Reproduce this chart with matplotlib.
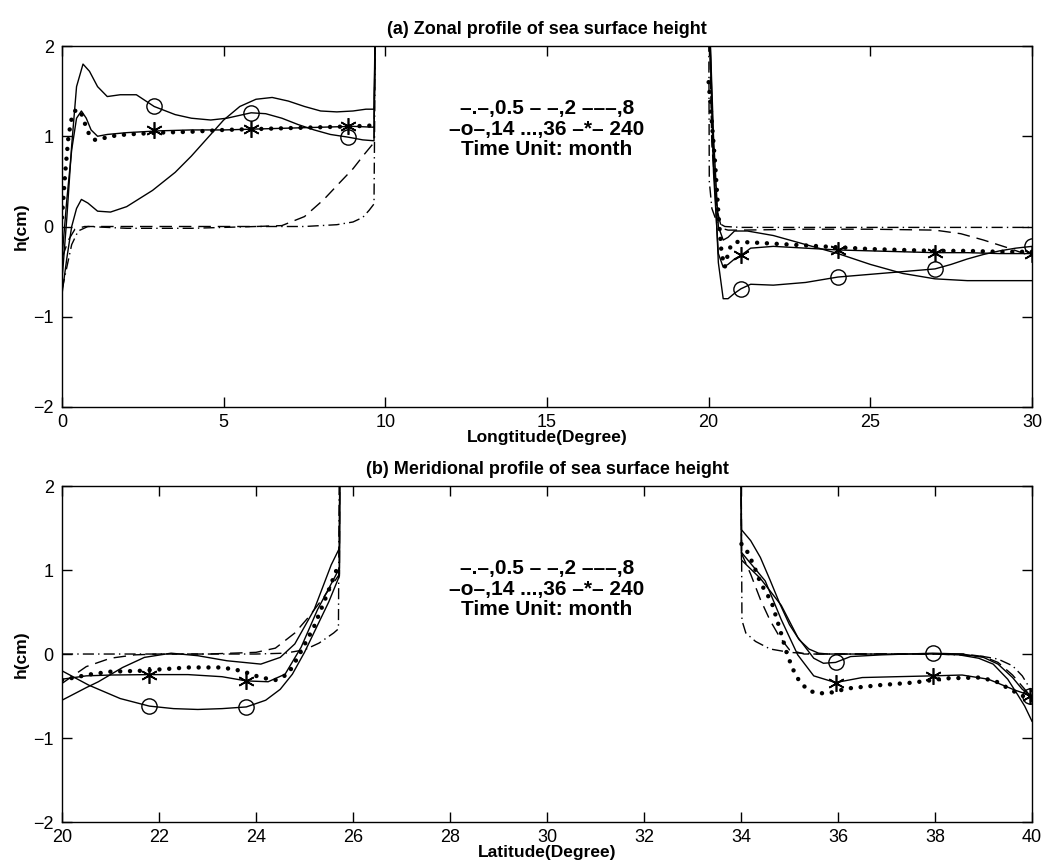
import numpy as np
import matplotlib
matplotlib.use("Agg")
import matplotlib.pyplot as plt
from matplotlib import font_manager

nan = np.nan

# ---------------- (a) zonal profile: longitude (deg) vs h (cm) ----------------
A_X_05 = [0, 0.15, 0.3, 0.5, 0.8, 2, 4, 6, 7.5, 8.5, 9.0, 9.3, 9.5, 9.65, 9.7,
          nan, 20, 20.02, 20.1, 20.25, 20.5, 21, 23, 25, 27, 29, 30]
A_H_05 = [-0.7, -0.45, -0.2, -0.05, 0.0, -0.02, -0.02, 0.0, 0.0, 0.02, 0.05, 0.1, 0.18, 0.25, 2.6,
          nan, 2.6, 0.5, 0.2, 0.05, 0.0, -0.01, -0.01, -0.01, -0.01, -0.01, -0.01]

A_X_2 = [0, 0.2, 0.4, 0.7, 2, 4, 6, 6.8, 7.5, 8.1, 8.6, 9.0, 9.35, 9.65, 9.7,
         nan, 20, 20.1, 20.25, 20.4, 20.6, 21, 23, 25, 27, 27.8, 28.5, 29.2, 30]
A_H_2 = [-0.35, -0.15, -0.03, 0.0, 0.0, 0.0, 0.0, 0.01, 0.11, 0.3, 0.49, 0.64, 0.8, 0.93, 2.6,
         nan, 2.6, 0.9, 0.2, -0.02, -0.04, -0.04, -0.03, -0.03, -0.04, -0.08, -0.15, -0.23, -0.33]

A_X_8 = [0, 0.15, 0.3, 0.45, 0.6, 0.8, 1.1, 1.5, 2.0, 2.8, 3.5, 4.0, 4.5, 5.0, 5.5, 6.0, 6.5,
         7.0, 7.5, 8.0, 8.5, 9.0, 9.4, 9.65, 9.7,
         nan, 20, 20.15, 20.3, 20.45, 20.6, 20.8, 21.2, 22, 23, 24, 25, 26, 27, 28, 29, 30]
A_H_8 = [-0.75, -0.35, 0.0, 0.2, 0.3, 0.26, 0.17, 0.16, 0.22, 0.4, 0.6, 0.78, 0.98, 1.18, 1.33, 1.41, 1.43,
         1.39, 1.33, 1.28, 1.27, 1.28, 1.3, 1.3, 2.6,
         nan, 2.6, 1.0, 0.0, -0.15, -0.12, -0.05, -0.05, -0.1, -0.2, -0.3, -0.42, -0.52, -0.58, -0.6, -0.6, -0.6]

A_X_14 = [0, 0.15, 0.3, 0.45, 0.65, 0.85, 1.1, 1.4, 1.8, 2.3, 2.85, 3.5, 4.0, 4.6, 5.1, 5.85, 6.3,
          6.8, 7.3, 7.8, 8.3, 8.85, 9.3, 9.65, 9.7,
          nan, 20, 20.15, 20.3, 20.45, 20.6, 20.8, 21, 21.3, 22, 23, 24, 25, 26, 27, 27.5, 28,
          28.5, 29, 29.5, 30]
A_H_14 = [-0.6, 0.1, 0.9, 1.55, 1.8, 1.72, 1.55, 1.44, 1.46, 1.46, 1.33, 1.24, 1.2, 1.18, 1.2, 1.26, 1.25,
          1.2, 1.13, 1.07, 1.02, 0.99, 0.96, 0.95, 2.6,
          nan, 2.6, 0.8, -0.4, -0.8, -0.8, -0.74, -0.69, -0.64, -0.65, -0.62, -0.56, -0.53, -0.5, -0.47,
          -0.42, -0.36, -0.31, -0.27, -0.24, -0.22]
A_MX_14 = [2.85, 5.85, 8.85, 21, 24, 27, 30]
A_MH_14 = [1.33, 1.26, 0.99, -0.69, -0.56, -0.47, -0.22]

A_X_36 = [0, 0.1, 0.2, 0.3, 0.4, 0.5, 0.6, 0.7, 0.8, 0.9, 1.0, 1.2, 1.5, 2, 3, 4, 5, 6, 7, 8, 9, 9.65,
          nan, 20.0, 20.1, 20.2, 20.3, 20.4, 20.5, 20.6, 20.7, 20.9, 21.5, 22, 23, 24, 25, 26, 27, 28, 29, 30]
A_H_36 = [0.1, 0.6, 1.0, 1.2, 1.28, 1.3, 1.25, 1.15, 1.05, 0.99, 0.96, 0.97, 1.0, 1.02, 1.04, 1.05, 1.07,
          1.08, 1.09, 1.1, 1.11, 1.12,
          nan, 1.6, 1.15, 0.7, 0.15, -0.3, -0.45, -0.3, -0.2, -0.17, -0.18, -0.19, -0.21, -0.23, -0.25,
          -0.26, -0.27, -0.27, -0.28, -0.28]

A_X_240 = [0, 0.15, 0.3, 0.45, 0.6, 0.75, 0.9, 1.1, 1.4, 2, 3, 4, 5, 6, 7, 8, 9, 9.65, 9.7,
           nan, 20, 20.15, 20.3, 20.45, 20.6, 20.8, 21, 21.3, 22, 23, 24, 25, 26, 27, 28, 29, 30]
A_H_240 = [-0.35, 0.3, 0.85, 1.2, 1.28, 1.2, 1.07, 1.0, 1.02, 1.04, 1.06, 1.07, 1.07, 1.08, 1.09, 1.1, 1.11,
           1.1, 2.6,
           nan, 2.6, 0.6, -0.3, -0.45, -0.42, -0.36, -0.32, -0.24, -0.22, -0.24, -0.26, -0.27, -0.28,
           -0.29, -0.29, -0.3, -0.3]
A_MX_240 = [2.85, 5.85, 8.85, 21, 24, 27, 30]
A_MH_240 = [1.07, 1.08, 1.11, -0.32, -0.26, -0.29, -0.3]

# ---------------- (b) meridional profile: latitude (deg) vs h (cm) ----------------
B_X_05 = [20, 21, 22, 23, 24, 24.6, 25.0, 25.3, 25.6, 25.7, 25.72,
          nan, 34, 34.02, 34.1, 34.3, 34.6, 35, 35.5, 37, 38, 38.5, 39, 39.3, 39.6, 39.8, 40]
B_H_05 = [0, 0, 0, 0, 0, 0.01, 0.05, 0.13, 0.25, 0.3, 2.6,
          nan, 2.6, 0.4, 0.25, 0.15, 0.06, 0.02, 0.0, 0.0, 0.0, -0.01, -0.03, -0.06, -0.14, -0.26, -0.45]

B_X_2 = [20, 20.5, 21, 21.5, 22, 23, 24, 24.4, 24.8, 25.1, 25.4, 25.72, 25.73,
         nan, 34, 34.01, 34.2, 34.4, 34.6, 34.8, 35.0, 35.3, 36, 38, 38.6, 39, 39.3, 39.6, 40]
B_H_2 = [-0.35, -0.15, -0.05, -0.01, 0.0, 0.0, 0.02, 0.07, 0.25, 0.45, 0.68, 0.95, 2.6,
         nan, 2.6, 1.2, 0.95, 0.65, 0.4, 0.2, 0.05, 0.0, 0.0, 0.0, 0.0, -0.03, -0.1, -0.25, -0.52]

B_X_8 = [20, 20.5, 20.75, 21.25, 21.7, 22.25, 22.8, 23.4, 24.1, 24.5, 24.8, 25.2, 25.55, 25.72, 25.73,
         nan, 34, 34.01, 34.2, 34.4, 34.6, 34.8, 35.0, 35.2, 35.4, 35.6, 35.8, 37, 38, 38.5, 38.9, 39.2,
         39.5, 39.7, 39.85, 40]
B_H_8 = [-0.55, -0.4, -0.33, -0.16, -0.04, 0.01, -0.02, -0.08, -0.12, -0.04, 0.12, 0.53, 1.06, 1.26, 2.6,
         nan, 2.6, 1.48, 1.35, 1.15, 0.88, 0.6, 0.35, 0.17, 0.06, 0.01, 0.0, 0.0, 0.0, -0.01, -0.05, -0.12,
         -0.3, -0.48, -0.62, -0.8]

B_X_14 = [20, 20.55, 21.2, 21.8, 22.3, 22.8, 23.3, 23.8, 24.2, 24.5, 24.75, 25.0, 25.3, 25.5, 25.72, 25.73,
          nan, 34, 34.01, 34.4, 34.83, 35.17, 35.5, 35.7, 35.95, 36.26, 36.9, 37.95, 38.56, 39.0, 39.3,
          39.6, 39.8, 40]
B_H_14 = [-0.2, -0.37, -0.53, -0.62, -0.65, -0.66, -0.65, -0.63, -0.55, -0.42, -0.24, 0.02, 0.38, 0.62, 0.93, 2.6,
          nan, 2.6, 1.12, 0.9, 0.58, 0.2, -0.05, -0.11, -0.1, -0.03, -0.01, 0.01, 0.0, -0.04, -0.12,
          -0.28, -0.42, -0.5]
B_MX_14 = [21.8, 23.8, 35.95, 37.95, 39.95]
B_MH_14 = [-0.62, -0.63, -0.1, 0.01, -0.5]

B_X_36 = [20, 20.55, 21.0, 21.6, 22.6, 23.3, 23.7, 24.1, 24.4, 24.66, 24.9, 25.2, 25.48, 25.72,
          nan, 34.01, 34.12, 34.26, 34.4, 34.63, 34.8, 34.95, 35.07, 35.2, 35.38, 35.58, 35.85, 36.2,
          36.87, 37.55, 38.22, 38.9, 39.24, 39.58, 39.85, 40]
B_H_36 = [-0.31, -0.245, -0.21, -0.2, -0.16, -0.16, -0.2, -0.28, -0.31, -0.24, 0.0, 0.33, 0.73, 1.09,
          nan, 1.31, 1.23, 1.06, 0.85, 0.62, 0.3, 0.0, -0.18, -0.32, -0.43, -0.47, -0.46, -0.41,
          -0.37, -0.34, -0.29, -0.28, -0.32, -0.43, -0.51, -0.55]

B_X_240 = [20, 20.5, 21.0, 21.8, 22.6, 23.3, 23.8, 24.25, 24.6, 24.93, 25.27, 25.72, 25.73,
           nan, 34, 34.01, 34.5, 34.83, 35.17, 35.5, 35.95, 36.5, 37.2, 37.95, 38.56, 39.1, 39.65, 40]
B_H_240 = [-0.3, -0.26, -0.25, -0.245, -0.245, -0.27, -0.32, -0.33, -0.24, 0.08, 0.53, 1.02, 2.6,
           nan, 2.6, 1.21, 0.87, 0.41, -0.01, -0.26, -0.34, -0.28, -0.27, -0.26, -0.25, -0.3, -0.43, -0.5]
B_MX_240 = [21.8, 23.8, 35.95, 37.95, 39.95]
B_MH_240 = [-0.245, -0.32, -0.34, -0.26, -0.5]

LEGEND_LINES = ["\u2013.\u2013,0.5 \u2013 \u2013,2 \u2013\u2013\u2013,8",
                "\u2013o\u2013,14 ...,36 \u2013*\u2013 240",
                "Time Unit: month"]

# ---------------- styling ----------------
installed = {f.name for f in font_manager.fontManager.ttflist}
base_font = "Liberation Sans" if "Liberation Sans" in installed else "DejaVu Sans"
title_font = "Liberation Sans Narrow" if "Liberation Sans Narrow" in installed else base_font
plt.rcParams["font.family"] = [base_font, "DejaVu Sans"]
plt.rcParams["axes.linewidth"] = 1.0

LW = 1.0
DASHDOT = (0, (8, 3, 1, 3))
DASHED = (0, (9, 5))
DOTTED = (0, (0.01, 2.2))
STAR = (6, 2, 0)


def draw_panel(ax, xs, title, xlabel, xlim, xticks, text_x, text_y):
    (x05, h05), (x2, h2), (x8, h8), (x14, h14, mx14, mh14), (x36, h36), (x240, h240, mx240, mh240) = xs
    ax.plot(x05, h05, color="k", lw=LW, linestyle=DASHDOT)
    ax.plot(x2, h2, color="k", lw=LW, linestyle=DASHED)
    ax.plot(x8, h8, color="k", lw=LW)
    ax.plot(x14, h14, color="k", lw=LW)
    ax.plot(mx14, mh14, linestyle="none", marker="o", ms=11, mfc="none", mec="k", mew=1.0)
    ax.plot(x36, h36, color="k", lw=3.2, linestyle=DOTTED, dash_capstyle="round")
    ax.plot(x240, h240, color="k", lw=LW)
    ax.plot(mx240, mh240, linestyle="none", marker=STAR, ms=12, mec="k", mew=1.2)

    ax.set_xlim(*xlim)
    ax.set_ylim(-2, 2)
    ax.set_xticks(xticks)
    ax.set_yticks([-2, -1, 0, 1, 2])
    ax.tick_params(direction="in", top=True, right=True, length=7, width=1.0, labelsize=13)
    ax.tick_params(axis="x", pad=5)
    ax.tick_params(axis="y", pad=6)
    ax.set_title(title, fontsize=13, fontweight="bold", family=[title_font, "DejaVu Sans"], pad=9)
    ax.set_xlabel(xlabel, fontsize=12.5, fontweight="bold", labelpad=-1)
    ax.set_ylabel("h(cm)", fontsize=12.5, fontweight="bold", labelpad=3)
    ax.text(text_x, text_y, "\n".join(LEGEND_LINES), ha="center", va="center",
            fontsize=15, fontweight="bold", linespacing=1.1)


fig = plt.figure(figsize=(10.58, 8.65), dpi=100)
ax_a = fig.add_axes([0.0586, 0.5295, 0.9168, 0.4173])
ax_b = fig.add_axes([0.0586, 0.0497, 0.9168, 0.3884])

draw_panel(ax_a,
           [(A_X_05, A_H_05), (A_X_2, A_H_2), (A_X_8, A_H_8),
            (A_X_14, A_H_14, A_MX_14, A_MH_14), (A_X_36, A_H_36),
            (A_X_240, A_H_240, A_MX_240, A_MH_240)],
           "(a) Zonal profile of sea surface height", "Longtitude(Degree)",
           (0, 30), [0, 5, 10, 15, 20, 25, 30], 15, 1.08)

draw_panel(ax_b,
           [(B_X_05, B_H_05), (B_X_2, B_H_2), (B_X_8, B_H_8),
            (B_X_14, B_H_14, B_MX_14, B_MH_14), (B_X_36, B_H_36),
            (B_X_240, B_H_240, B_MX_240, B_MH_240)],
           "(b) Meridional profile of sea surface height", "Latitude(Degree)",
           (20, 40), list(range(20, 41, 2)), 30, 0.77)

fig.savefig("out.png", dpi=100)
